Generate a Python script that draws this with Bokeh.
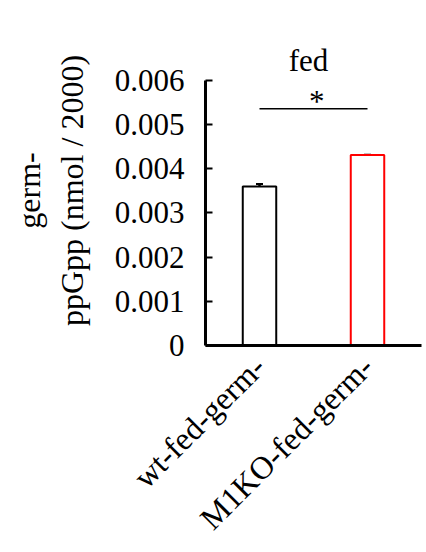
from math import pi
from bokeh.plotting import figure
from bokeh.models import FactorRange, Range1d, Label, Whisker, ColumnDataSource, FixedTicker
from bokeh.embed import file_html
from bokeh.resources import INLINE

categories = ["wt-fed-germ-", "M1KO-fed-germ-"]
means = [0.0036, 0.00431]
errors = [0.000055, 0.00001]
colors = ["black", "red"]
y_ticks = [0, 0.001, 0.002, 0.003, 0.004, 0.005, 0.006]
y_tick_labels = ["0", "0.001", "0.002", "0.003", "0.004", "0.005", "0.006"]
sig_y = 0.00536
group_title = "fed"
y_label = "germ-\nppGpp (nmol / 2000)"

FONT = "Liberation Serif"

p = figure(x_range=FactorRange(*categories, range_padding=0),
           y_range=Range1d(0, 0.007018),
           width=426, height=552, output_backend="svg", toolbar_location=None,
           min_border_left=205, min_border_right=5, min_border_top=35, min_border_bottom=200)

p.grid.visible = False
p.outline_line_color = None
p.background_fill_color = "white"
p.border_fill_color = "white"

src = ColumnDataSource(dict(x=categories, top=means, color=colors,
                            upper=[m + e for m, e in zip(means, errors)],
                            lower=[m - e for m, e in zip(means, errors)]))

p.vbar(x="x", top="top", width=0.31, fill_color="white", line_color="color",
       line_width=2, source=src)

w = Whisker(source=src, base="x", upper="upper", lower="lower", line_width=2.5,
            line_color="black")
w.upper_head.size = 7
w.lower_head.size = 7
w.upper_head.line_width = 2
w.lower_head.line_width = 2
p.add_layout(w)

p.segment(x0=[categories[0]], x1=[categories[1]], y0=[sig_y], y1=[sig_y],
          line_color="black", line_width=1.5)

p.add_layout(Label(x=1.03, y=0.00553, text="*", text_align="center",
                   text_baseline="alphabetic", text_font=FONT, text_font_size="31px",
                   text_color="black"))
p.add_layout(Label(x=0.954, y=0.00646, text=group_title, text_align="center",
                   text_baseline="alphabetic", text_font=FONT, text_font_size="31px",
                   text_color="black"))

ya = p.yaxis[0]
ya.ticker = FixedTicker(ticks=y_ticks)
ya.major_label_overrides = {t: l for t, l in zip(y_ticks, y_tick_labels)}
ya.bounds = (0, 0.006)
ya.axis_line_width = 3
ya.axis_line_color = "black"
ya.major_tick_in = 7
ya.major_tick_out = 0
ya.major_tick_line_width = 2
ya.major_tick_line_color = "black"
ya.minor_tick_line_color = None
ya.major_label_text_font = FONT
ya.major_label_text_font_size = "31px"
ya.major_label_text_color = "black"
ya.major_label_standoff = 21
ya.axis_label = y_label
ya.axis_label_text_font = FONT
ya.axis_label_text_font_size = "32px"
ya.axis_label_text_font_style = "normal"
ya.axis_label_text_color = "black"
ya.axis_label_standoff = 22

xa = p.xaxis[0]
xa.axis_line_width = 3
xa.axis_line_color = "black"
xa.major_tick_line_color = None
xa.minor_tick_line_color = None
xa.major_label_orientation = pi / 4
xa.major_label_text_font = FONT
xa.major_label_text_font_size = "32px"
xa.major_label_text_color = "black"
xa.major_label_standoff = 10

open("out.html", "w").write(file_html(p, INLINE))
